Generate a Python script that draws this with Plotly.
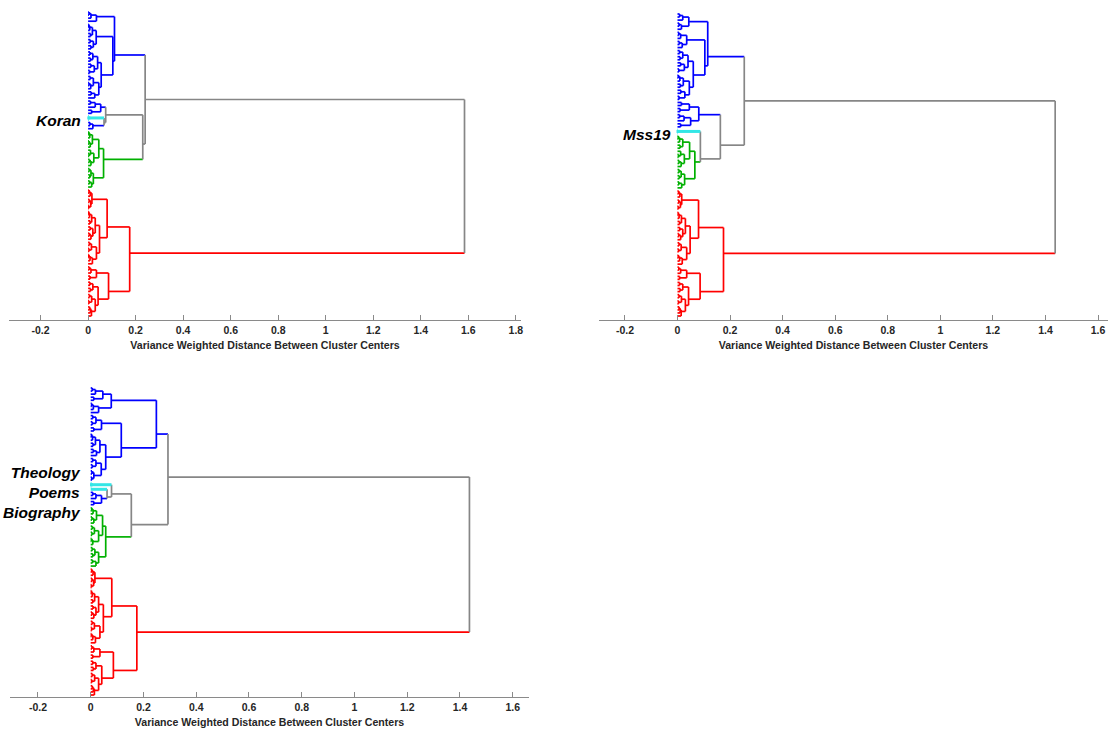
import plotly.graph_objects as go

# Dendrogram trees: a node is [height, left, right, optional colour]; a leaf is 0
# (or a colour name for a singleton that carries its own colour).
RED_GROUP = [0.175,
             [0.080,
              [0.016, [0.009, [0.004, 0, 0], 0], [0.011, [0.005, 0, 0], [0.003, 0, 0]]],
              [0.048,
               [0.030, [0.015, [0.006, [0.003, 0, 0], 0], [0.008, 0, 0]],
                       [0.020, [0.009, 0, 0], [0.012, [0.005, 0, 0], 0]]],
               [0.035, [0.014, [0.006, 0, 0], [0.004, 0, 0]], [0.018, [0.008, [0.003, 0, 0], 0], 0]]]],
             [0.086,
              [0.035, [0.012, [0.005, 0, 0], 0], [0.008, 0, 0]],
              [0.042,
               [0.020, [0.008, 0, 0], [0.010, 0, 0]],
               [0.030, [0.015, [0.006, 0, 0], [0.004, 0, 0]], [0.014, [0.010, [0.006, 0, 0], 0], 0]]]],
             "red"]

KORAN_BLUE_A = [0.111,
                [0.035, [0.012, [0.004, 0, 0], 0], 0],
                [0.104,
                 [0.034, [0.018, [0.007, [0.003, 0, 0], 0], [0.010, 0, 0]],
                         [0.022, [0.009, 0, 0], [0.012, 0, 0]]],
                 [0.055, [0.040, [0.020, [0.008, 0, 0], [0.010, 0, 0]], [0.026, [0.012, 0, 0], [0.006, 0, 0]]],
                         [0.045, [0.022, [0.009, 0, 0], [0.011, [0.004, 0, 0], 0]], [0.028, [0.013, 0, 0], 0]]]],
                "blue"]
KORAN_BLUE_B = [0.053, [0.030, [0.010, 0, 0], 0], [0.015, 0, 0], "blue"]
KORAN_CYAN = [0.003, 0, 0, "cyan"]
KORAN_BLUE_C = [0.020, [0.008, 0, 0], 0, "blue"]
KORAN_GREEN = [0.065,
               [0.045, [0.018, [0.007, [0.003, 0, 0], 0], [0.009, [0.004, 0, 0], 0]],
                       [0.024, [0.010, 0, [0.004, 0, 0]], [0.012, [0.006, 0, 0], 0]]],
               [0.022, [0.012, [0.005, 0, 0], [0.007, 0, 0]], [0.015, [0.006, 0, 0], 0]],
               "green"]
KORAN = [1.584,
         [0.240, KORAN_BLUE_A,
          [0.230, [0.074, KORAN_BLUE_B, [0.067, KORAN_CYAN, KORAN_BLUE_C]], KORAN_GREEN]],
         RED_GROUP]

MSS_BLUE_A = [0.115,
              [0.043, [0.020, [0.008, 0, 0], 0], [0.015, [0.006, 0, 0], 0]],
              [0.104,
               [0.035, [0.012, [0.005, 0, 0], 0], [0.018, [0.007, 0, 0], 0]],
               [0.060, [0.040, [0.020, [0.008, 0, 0], [0.010, 0, 0]], [0.026, [0.012, 0, 0], [0.005, 0, 0]]],
                       [0.045, [0.022, [0.009, [0.003, 0, 0], 0], [0.011, 0, 0]],
                               [0.028, [0.013, 0, 0], [0.006, 0, 0]]]]],
              "blue"]
MSS_BLUE_B = [0.081, [0.045, [0.015, 0, 0], [0.010, 0, 0]],
              [0.050, [0.025, [0.008, 0, 0], 0], [0.012, 0, 0]], "blue"]
MSS_CYAN = [0.002, 0, 0, "cyan"]
MSS_GREEN = [0.066,
             [0.046, [0.020, [0.008, [0.003, 0, 0], 0], [0.010, 0, 0]],
                     [0.026, [0.012, 0, [0.004, 0, 0]], [0.014, [0.006, 0, 0], 0]]],
             [0.027, [0.014, [0.006, 0, 0], [0.007, 0, 0]], [0.016, [0.005, 0, 0], 0]],
             "green"]
MSS19 = [1.437,
         [0.254, MSS_BLUE_A, [0.163, MSS_BLUE_B, [0.087, MSS_CYAN, MSS_GREEN]]],
         RED_GROUP]

TPB_BLUE_A = [0.249,
              [0.078, [0.046, [0.018, [0.006, 0, 0], 0], [0.012, 0, 0]],
                      [0.030, [0.010, [0.004, 0, 0], 0], 0]],
              [0.116,
               [0.041, [0.020, [0.008, 0, 0], [0.006, 0, 0]], [0.012, 0, 0]],
               [0.057, [0.035, [0.018, [0.007, [0.003, 0, 0], 0], [0.009, 0, 0]], [0.022, [0.010, 0, 0], 0]],
                       [0.040, [0.020, [0.008, 0, 0], [0.006, 0, 0]], [0.012, [0.005, 0, 0], [0.004, 0, 0]]]]],
              "blue"]
TPB_CYAN = [0.003, 0, 0, "cyan"]
TPB_BLUE_B = [0.041, [0.020, [0.008, 0, 0], 0], [0.012, 0, 0], "blue"]
TPB_GREEN = [0.057,
             [0.045, [0.022, [0.009, [0.004, 0, 0], 0], [0.012, [0.005, 0, 0], 0]],
                     [0.030, [0.014, [0.006, 0, 0], [0.005, 0, 0]], [0.008, [0.003, 0, 0], 0]]],
             [0.030, [0.016, [0.006, 0, 0], [0.008, 0, 0]], [0.020, [0.007, 0, 0], 0]],
             "green"]
TPB = [1.436,
       [0.293, TPB_BLUE_A,
        [0.154, [0.079, TPB_CYAN, [0.062, "cyan", TPB_BLUE_B]], TPB_GREEN]],
       RED_GROUP]

PANEL_NAMES = ["Koran", "Mss19", "Theology<br>Poems<br>Biography"]
TREES = [KORAN, MSS19, TPB]
TICKS = [[-0.2, 0, 0.2, 0.4, 0.6, 0.8, 1, 1.2, 1.4, 1.6, 1.8],
         [-0.2, 0, 0.2, 0.4, 0.6, 0.8, 1, 1.2, 1.4, 1.6],
         [-0.2, 0, 0.2, 0.4, 0.6, 0.8, 1, 1.2, 1.4, 1.6]]
X_TITLE = "Variance Weighted Distance Between Cluster Centers"

COLORS = {"gray": "#868686", "blue": "#0000ff", "green": "#00b000",
          "red": "#ff0000", "cyan": "#33e6e6"}
WIDTHS = {"gray": 1.7, "blue": 1.7, "green": 1.7, "red": 1.7, "cyan": 3}

W, H = 1112, 731
# per panel: x range, plot box in pixels (left, right, top, axis line), leaf span in pixels
PANELS = [
    dict(xr=(-0.333, 1.822), box=(9, 522, 5, 320), leaves=(12, 316), label=(83, 120)),
    dict(xr=(-0.299, 1.638), box=(600, 1110, 5, 320), leaves=(14, 316), label=(674, 134)),
    dict(xr=(-0.306, 1.662), box=(10, 530, 383, 697), leaves=(388, 695), label=(83, 492)),
]
FONT = "Liberation Sans, Arial"


def dendrogram_segments(tree):
    """Lay out leaves top-to-bottom; each node sits at the mean of its leaves."""
    segs = {}
    counter = [0]

    def add(col, xs, ys):
        bx, by = segs.setdefault(col, ([], []))
        bx.extend(xs + [None])
        by.extend(ys + [None])

    def walk(node, inherited):
        if not isinstance(node, list):
            y = counter[0]
            counter[0] += 1
            return y, 1, 0.0, (node if isinstance(node, str) else None)
        h, left, right = node[:3]
        col = node[3] if len(node) > 3 else inherited
        kids = [walk(left, col), walk(right, col)]
        for ky, _, kh, kcol in kids:
            add(kcol or col, [kh, h], [ky, ky])
        add(col, [h, h], [kids[0][0], kids[1][0]])
        n = kids[0][1] + kids[1][1]
        y = (kids[0][0] * kids[0][1] + kids[1][0] * kids[1][1]) / n
        return y, n, h, col

    walk(tree, "gray")
    return segs, counter[0]


fig = go.Figure()
layout = dict(width=W, height=H, margin=dict(l=0, r=0, t=0, b=0),
              paper_bgcolor="white", plot_bgcolor="white", showlegend=False,
              annotations=[])

for i, (tree, p, ticks, name) in enumerate(zip(TREES, PANELS, TICKS, PANEL_NAMES)):
    segs, n = dendrogram_segments(tree)
    xa = "xaxis" if i == 0 else f"xaxis{i + 1}"
    ya = "yaxis" if i == 0 else f"yaxis{i + 1}"
    xref = "x" if i == 0 else f"x{i + 1}"
    yref = "y" if i == 0 else f"y{i + 1}"
    for col in ["red", "green", "blue", "gray", "cyan"]:
        if col in segs:
            xs, ys = segs[col]
            fig.add_trace(go.Scatter(x=xs, y=ys, mode="lines", xaxis=xref, yaxis=yref,
                                     line=dict(color=COLORS[col], width=WIDTHS[col]),
                                     hoverinfo="skip"))
    left, right, top, axis_px = p["box"]
    l_top, l_bot = p["leaves"]
    step = (l_bot - l_top) / (n - 1)
    layout[xa] = dict(domain=[left / W, right / W], range=list(p["xr"]), anchor=yref,
                      showline=True, linecolor="#8a8a8a", linewidth=1,
                      ticks="inside", ticklen=5, tickcolor="#8a8a8a", tickwidth=1,
                      tickvals=ticks, ticktext=[f"{t:g}" for t in ticks],
                      tickfont=dict(family=FONT, size=10.5, color="#262626", weight="bold"),
                      showgrid=False, zeroline=False,
                      title=dict(text=X_TITLE, standoff=6,
                                 font=dict(family=FONT, size=10.6, color="#262626",
                                           weight="bold")))
    layout[ya] = dict(domain=[(H - axis_px) / H, (H - top) / H],
                      range=[(axis_px - l_top) / step, (top - l_top) / step],
                      anchor=xref, visible=False)
    lx, ly = p["label"]
    layout["annotations"].append(dict(
        text=f"<b><i>{name}</i></b>", xref="paper", yref="paper",
        x=lx / W, y=1 - ly / H, xanchor="right", yanchor="middle", align="right",
        showarrow=False, font=dict(family=FONT, size=15.5, color="black")))

fig.update_layout(**layout)
fig.write_html("out.html")
